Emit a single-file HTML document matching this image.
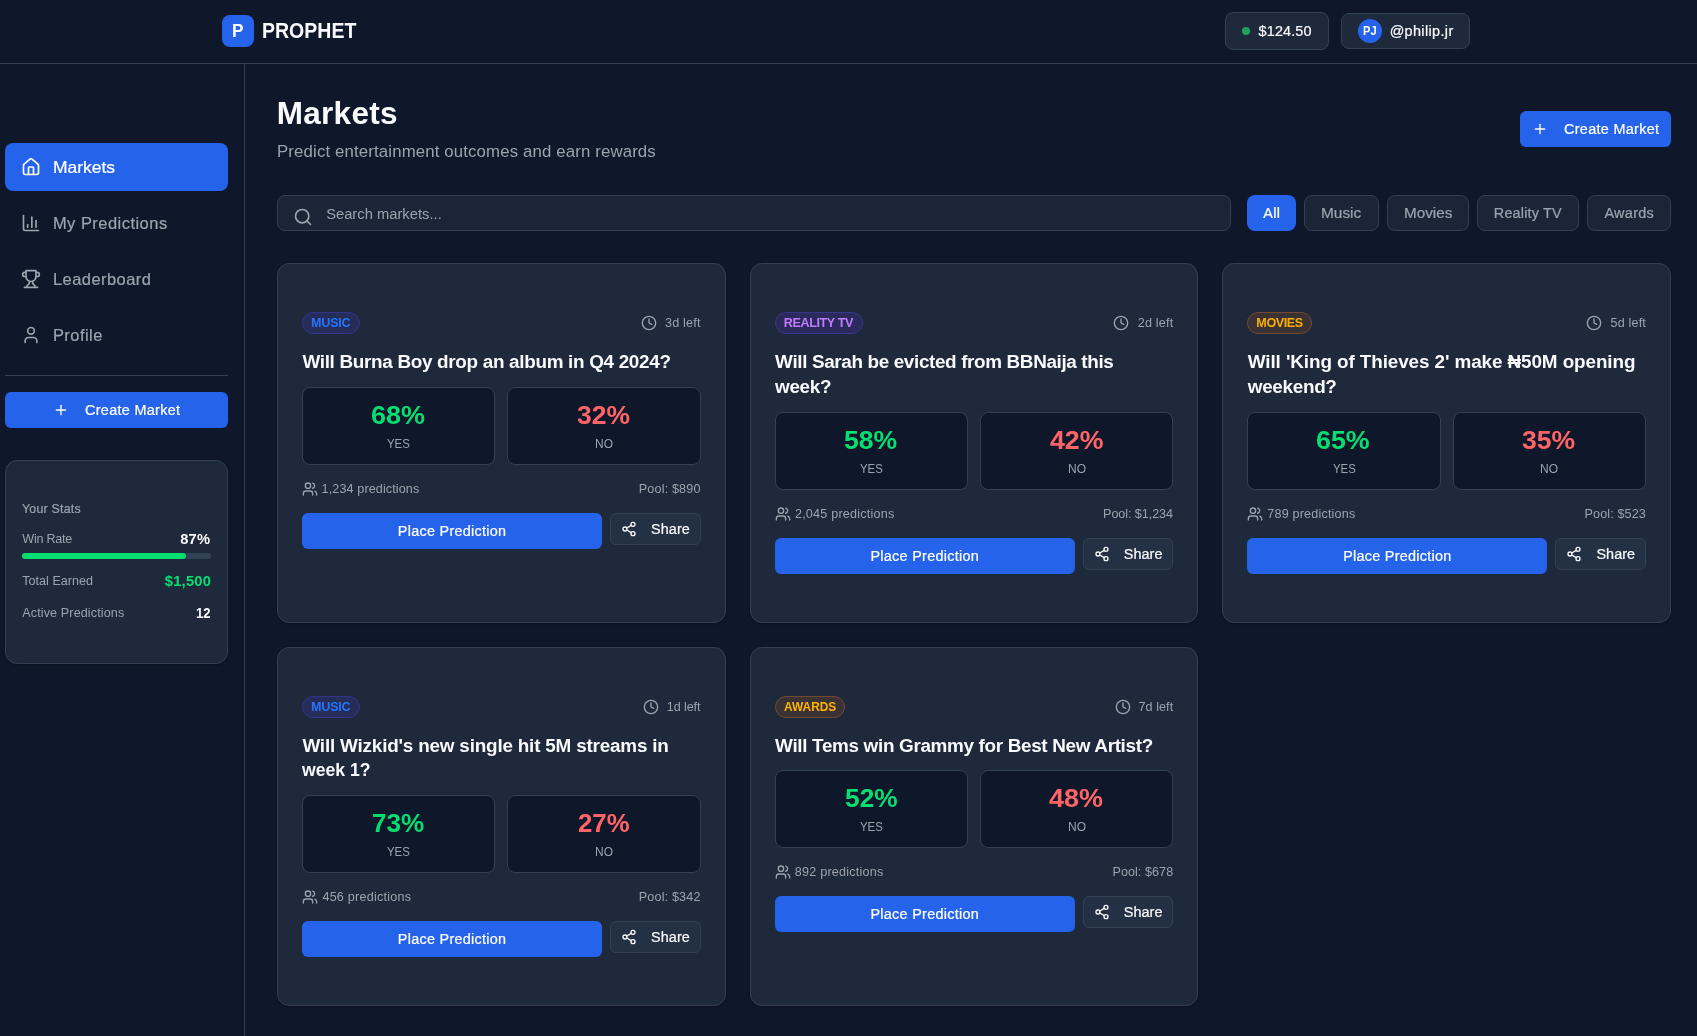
<!DOCTYPE html>
<html lang="en"><head><meta charset="utf-8"><meta name="viewport" content="width=1697"><title>Prophet - Markets</title><style>
html,body{margin:0;padding:0;background:#0f172a;}
body{width:1697px;height:1036px;position:relative;overflow:hidden;font-family:"Liberation Sans",sans-serif;}
#r{position:absolute;left:0;top:0;width:1697px;height:1036px;will-change:transform;}
.b{position:absolute;box-sizing:border-box;}
.t{position:absolute;white-space:nowrap;display:block;transform-origin:0 0;}
.i{position:absolute;fill:none;stroke:currentColor;stroke-width:2;stroke-linecap:round;stroke-linejoin:round;}
</style></head>
<body>
<div id="r">
<header>
<div class="b" style="left:0px;top:63px;width:1697px;height:1px;background:#334155;"></div>
<div class="b" style="left:222px;top:15px;width:32px;height:32px;background:#2563eb;border-radius:8px;"></div>
<span class="t" style="left:232.197px;top:20px;font-size:18.9px;line-height:21px;color:#ffffff;transform:scaleX(0.9159);font-weight:700;">P</span>
<span class="t" style="left:262.012px;top:18px;font-size:21.8px;line-height:25px;color:#f8fafc;transform:scaleX(0.8956);font-weight:700;">PROPHET</span>
<div class="b" style="left:1225px;top:12px;width:104px;height:38px;background:#1e293b;border:1px solid #334155;border-radius:8px;"></div>
<div class="b" style="left:1242px;top:27px;width:8px;height:8px;background:#1da35c;border-radius:4px;"></div>
<span class="t" style="left:1258.57px;top:23px;font-size:14.42px;line-height:16px;color:#f8fafc;letter-spacing:0.15px;-webkit-text-stroke:0.22px #f8fafc;">$124.50</span>
<div class="b" style="left:1341px;top:13px;width:129px;height:36px;background:#1e293b;border:1px solid #334155;border-radius:8px;"></div>
<div class="b" style="left:1358px;top:19px;width:24px;height:24px;background:#2563eb;border-radius:12px;"></div>
<span class="t" style="left:1363.232px;top:24px;font-size:12.6px;line-height:14px;color:#ffffff;transform:scaleX(0.8798);font-weight:700;">PJ</span>
<span class="t" style="left:1389.639px;top:23px;font-size:14.42px;line-height:16px;color:#f8fafc;letter-spacing:0.366px;-webkit-text-stroke:0.22px #f8fafc;">@philip.jr</span>
</header>
<aside>
<div class="b" style="left:244px;top:64px;width:1px;height:972px;background:#334155;"></div>
<div class="b" style="left:5px;top:143px;width:223px;height:48px;background:#2563eb;border-radius:8px;"></div>
<svg class="i" style="left:21px;top:157px;color:#ffffff" width="20" height="20" viewBox="0 0 24 24"><path d="M15 21v-8a1 1 0 0 0-1-1h-4a1 1 0 0 0-1 1v8"/><path d="M3 10a2 2 0 0 1 .709-1.528l7-5.999a2 2 0 0 1 2.582 0l7 5.999A2 2 0 0 1 21 10v9a2 2 0 0 1-2 2H5a2 2 0 0 1-2-2z"/></svg>
<span class="t" style="left:52.856px;top:158px;font-size:16.48px;line-height:18px;color:#ffffff;transform:scaleX(1.0600);-webkit-text-stroke:0.22px #ffffff;">Markets</span>
<svg class="i" style="left:21px;top:213px;color:#9ca3af" width="20" height="20" viewBox="0 0 24 24"><path d="M3 3v16a2 2 0 0 0 2 2h16"/><path d="M18 17V9"/><path d="M13 17V5"/><path d="M8 17v-3"/></svg>
<span class="t" style="left:52.937px;top:214px;font-size:16.48px;line-height:18px;color:#9ca3af;letter-spacing:0.477px;-webkit-text-stroke:0.22px #9ca3af;">My Predictions</span>
<svg class="i" style="left:21px;top:269px;color:#9ca3af" width="20" height="20" viewBox="0 0 24 24"><path d="M6 9H4.5a2.5 2.5 0 0 1 0-5H6"/><path d="M18 9h1.5a2.5 2.5 0 0 0 0-5H18"/><path d="M4 22h16"/><path d="M10 14.66V17c0 .55-.47.98-.97 1.21C7.85 18.75 7 20.24 7 22"/><path d="M14 14.66V17c0 .55.47.98.97 1.21C16.15 18.75 17 20.24 17 22"/><path d="M18 2H6v7a6 6 0 0 0 12 0V2Z"/></svg>
<span class="t" style="left:52.937px;top:270px;font-size:16.48px;line-height:18px;color:#9ca3af;letter-spacing:0.455px;-webkit-text-stroke:0.22px #9ca3af;">Leaderboard</span>
<svg class="i" style="left:21px;top:325px;color:#9ca3af" width="20" height="20" viewBox="0 0 24 24"><path d="M19 21v-2a4 4 0 0 0-4-4H9a4 4 0 0 0-4 4v2"/><circle cx="12" cy="7" r="4"/></svg>
<span class="t" style="left:52.937px;top:326px;font-size:16.48px;line-height:18px;color:#9ca3af;letter-spacing:0.463px;-webkit-text-stroke:0.22px #9ca3af;">Profile</span>
<div class="b" style="left:5px;top:375px;width:223px;height:1px;background:#334155;"></div>
<div class="b" style="left:5px;top:392px;width:223px;height:36px;background:#2563eb;border-radius:6px;"></div>
<svg class="i" style="left:53px;top:402px;color:#ffffff" width="16" height="16" viewBox="0 0 24 24"><path d="M5 12h14"/><path d="M12 5v14"/></svg>
<span class="t" style="left:85.04px;top:402px;font-size:14.42px;line-height:16px;color:#ffffff;letter-spacing:0.308px;-webkit-text-stroke:0.22px #ffffff;">Create Market</span>
<div class="b" style="left:5px;top:460px;width:223px;height:204px;background:#1e293b;border:1px solid #334155;border-radius:12px;box-shadow:0 1px 2px rgba(0,0,0,.25);"></div>
<span class="t" style="left:22.027px;top:502px;font-size:12.36px;line-height:14px;color:#9ca3af;letter-spacing:0.23px;-webkit-text-stroke:0.2px #9ca3af;">Your Stats</span>
<span class="t" style="left:22.249px;top:532px;font-size:12.6px;line-height:14px;color:#9ca3af;letter-spacing:-0.237px;">Win Rate</span>
<span class="t" style="left:180.148px;top:531px;font-size:14.7px;line-height:16px;color:#f8fafc;letter-spacing:0.235px;font-weight:700;">87%</span>
<div class="b" style="left:22px;top:553px;width:189px;height:6px;background:#334155;border-radius:3px;"></div>
<div class="b" style="left:22px;top:553px;width:164.4px;height:6px;background:#05df72;border-radius:3px;"></div>
<span class="t" style="left:22.291px;top:574px;font-size:12.6px;line-height:14px;color:#9ca3af;">Total Earned</span>
<span class="t" style="left:164.821px;top:573px;font-size:14.7px;line-height:16px;color:#05df72;letter-spacing:0.231px;font-weight:700;">$1,500</span>
<span class="t" style="left:22.28px;top:606px;font-size:12.6px;line-height:14px;color:#9ca3af;letter-spacing:0.11px;">Active Predictions</span>
<span class="t" style="left:196.178px;top:605px;font-size:14.7px;line-height:16px;color:#f8fafc;transform:scaleX(0.8878);font-weight:700;">12</span>
</aside>
<main>
<span class="t" style="left:276.87px;top:95px;font-size:31.5px;line-height:36px;color:#f8fafc;letter-spacing:0.247px;font-weight:700;">Markets</span>
<span class="t" style="left:277.028px;top:142px;font-size:16.8px;line-height:19px;color:#9ca3af;letter-spacing:0.142px;">Predict entertainment outcomes and earn rewards</span>
<div class="b" style="left:1520px;top:111px;width:151px;height:36px;background:#2563eb;border-radius:6px;"></div>
<svg class="i" style="left:1532px;top:121px;color:#ffffff" width="16" height="16" viewBox="0 0 24 24"><path d="M5 12h14"/><path d="M12 5v14"/></svg>
<span class="t" style="left:1564.04px;top:121px;font-size:14.42px;line-height:16px;color:#ffffff;letter-spacing:0.308px;-webkit-text-stroke:0.22px #ffffff;">Create Market</span>
<div class="b" style="left:277px;top:195px;width:954px;height:36px;background:#1c2438;border:1px solid #334155;border-radius:8px;"></div>
<svg class="i" style="left:293px;top:207px;color:#9ca3af" width="20" height="20" viewBox="0 0 24 24"><circle cx="11" cy="11" r="8"/><path d="m21 21-4.3-4.3"/></svg>
<span class="t" style="left:326.125px;top:206px;font-size:14.7px;line-height:16px;color:#9ca3af;letter-spacing:0.032px;">Search markets...</span>
<div class="b" style="left:1247px;top:195px;width:49px;height:36px;background:#2563eb;border-radius:8px;"></div>
<span class="t" style="left:1263.33px;top:205px;font-size:14.42px;line-height:16px;color:#ffffff;letter-spacing:0.301px;-webkit-text-stroke:0.22px #ffffff;">All</span>
<div class="b" style="left:1304px;top:195px;width:75px;height:36px;background:#1c2438;border:1px solid #334155;border-radius:8px;"></div>
<span class="t" style="left:1321.189px;top:205px;font-size:14.42px;line-height:16px;color:#9ca3af;transform:scaleX(1.0700);-webkit-text-stroke:0.22px #9ca3af;">Music</span>
<div class="b" style="left:1387px;top:195px;width:82px;height:36px;background:#1c2438;border:1px solid #334155;border-radius:8px;"></div>
<span class="t" style="left:1403.723px;top:205px;font-size:14.42px;line-height:16px;color:#9ca3af;transform:scaleX(1.0594);-webkit-text-stroke:0.22px #9ca3af;">Movies</span>
<div class="b" style="left:1477px;top:195px;width:102px;height:36px;background:#1c2438;border:1px solid #334155;border-radius:8px;"></div>
<span class="t" style="left:1493.871px;top:205px;font-size:14.42px;line-height:16px;color:#9ca3af;letter-spacing:0.163px;-webkit-text-stroke:0.22px #9ca3af;">Reality TV</span>
<div class="b" style="left:1587px;top:195px;width:84px;height:36px;background:#1c2438;border:1px solid #334155;border-radius:8px;"></div>
<span class="t" style="left:1604.39px;top:205px;font-size:14.42px;line-height:16px;color:#9ca3af;letter-spacing:0.33px;-webkit-text-stroke:0.22px #9ca3af;">Awards</span>
<article>
<div class="b" style="left:277px;top:263px;width:448.667px;height:359.5px;background:#1e293b;border:1px solid #334155;border-radius:12px;box-shadow:0 1px 2px rgba(0,0,0,.25);"></div>
<div class="b" style="left:302px;top:312px;width:57.867px;height:22px;background:#262d58;border:1px solid #30358a;border-radius:11px;"></div>
<span class="t" style="left:311.036px;top:316px;font-size:12.6px;line-height:14px;color:#2474ff;letter-spacing:-0.24px;font-weight:700;">MUSIC</span>
<span class="t" style="left:664.925px;top:316px;font-size:12.6px;line-height:14px;color:#9ca3af;letter-spacing:0.214px;">3d left</span>
<svg class="i" style="left:640.673px;top:315px;color:#9ca3af" width="16" height="16" viewBox="0 0 24 24"><circle cx="12" cy="12" r="10"/><polyline points="12 6 12 12 16 14"/></svg>
<span class="t" style="left:302.421px;top:351px;font-size:18.9px;line-height:21px;color:#f8fafc;letter-spacing:-0.315px;font-weight:700;">Will Burna Boy drop an album in Q4 2024?</span>
<div class="b" style="left:302px;top:386.75px;width:193.333px;height:78px;background:#0f172a;border:1px solid #334155;border-radius:8px;"></div>
<span class="t" style="left:370.989px;top:401px;font-size:25.2px;line-height:28px;color:#05df72;transform:scaleX(1.0712);font-weight:700;">68%</span>
<span class="t" style="left:387.192px;top:437px;font-size:12.6px;line-height:14px;color:#9ca3af;transform:scaleX(0.9067);">YES</span>
<div class="b" style="left:507.333px;top:386.75px;width:193.333px;height:78px;background:#0f172a;border:1px solid #334155;border-radius:8px;"></div>
<span class="t" style="left:577.061px;top:401px;font-size:25.2px;line-height:28px;color:#ff6467;transform:scaleX(1.0503);font-weight:700;">32%</span>
<span class="t" style="left:594.961px;top:437px;font-size:12.6px;line-height:14px;color:#9ca3af;transform:scaleX(0.9532);">NO</span>
<svg class="i" style="left:302px;top:480.75px;color:#9ca3af" width="16" height="16" viewBox="0 0 24 24"><path d="M16 21v-2a4 4 0 0 0-4-4H6a4 4 0 0 0-4 4v2"/><circle cx="9" cy="7" r="4"/><path d="M22 21v-2a4 4 0 0 0-3-3.87"/><path d="M16 3.13a4 4 0 0 1 0 7.75"/></svg>
<span class="t" style="left:321.603px;top:482px;font-size:12.6px;line-height:14px;color:#9ca3af;letter-spacing:0.11px;">1,234 predictions</span>
<span class="t" style="left:638.824px;top:482px;font-size:12.6px;line-height:14px;color:#9ca3af;letter-spacing:0.156px;">Pool: $890</span>
<div class="b" style="left:302px;top:512.75px;width:300px;height:36px;background:#2563eb;border-radius:6px;"></div>
<span class="t" style="left:397.804px;top:523px;font-size:14.42px;line-height:16px;color:#ffffff;letter-spacing:0.277px;-webkit-text-stroke:0.22px #ffffff;">Place Prediction</span>
<div class="b" style="left:610px;top:512.75px;width:90.667px;height:32px;background:#243044;border:1px solid #334155;border-radius:6px;"></div>
<svg class="i" style="left:621px;top:520.75px;color:#f8fafc" width="16" height="16" viewBox="0 0 24 24"><circle cx="18" cy="5" r="3"/><circle cx="6" cy="12" r="3"/><circle cx="18" cy="19" r="3"/><line x1="8.59" x2="15.42" y1="13.51" y2="17.49"/><line x1="15.41" x2="8.59" y1="6.51" y2="10.49"/></svg>
<span class="t" style="left:651.07px;top:521px;font-size:14.42px;line-height:16px;color:#f8fafc;letter-spacing:0.07px;-webkit-text-stroke:0.22px #f8fafc;">Share</span>
</article>
<article>
<div class="b" style="left:749.667px;top:263px;width:448.667px;height:359.5px;background:#1e293b;border:1px solid #334155;border-radius:12px;box-shadow:0 1px 2px rgba(0,0,0,.25);"></div>
<div class="b" style="left:774.667px;top:312px;width:88.242px;height:22px;background:#2a2b5c;border:1px solid #37358c;border-radius:11px;"></div>
<span class="t" style="left:783.703px;top:316px;font-size:12.6px;line-height:14px;color:#c27aff;letter-spacing:-0.384px;font-weight:700;">REALITY TV</span>
<span class="t" style="left:1137.702px;top:316px;font-size:12.6px;line-height:14px;color:#9ca3af;letter-spacing:0.196px;">2d left</span>
<svg class="i" style="left:1113.433px;top:315px;color:#9ca3af" width="16" height="16" viewBox="0 0 24 24"><circle cx="12" cy="12" r="10"/><polyline points="12 6 12 12 16 14"/></svg>
<span class="t" style="left:775.088px;top:351px;font-size:18.9px;line-height:21px;color:#f8fafc;letter-spacing:-0.362px;font-weight:700;">Will Sarah be evicted from BBNaija this</span>
<span class="t" style="left:775.109px;top:376px;font-size:18.9px;line-height:21px;color:#f8fafc;letter-spacing:-0.343px;font-weight:700;">week?</span>
<div class="b" style="left:774.667px;top:411.5px;width:193.333px;height:78px;background:#0f172a;border:1px solid #334155;border-radius:8px;"></div>
<span class="t" style="left:844.36px;top:426px;font-size:25.2px;line-height:28px;color:#05df72;transform:scaleX(1.0546);font-weight:700;">58%</span>
<span class="t" style="left:859.859px;top:462px;font-size:12.6px;line-height:14px;color:#9ca3af;transform:scaleX(0.9067);">YES</span>
<div class="b" style="left:980px;top:411.5px;width:193.333px;height:78px;background:#0f172a;border:1px solid #334155;border-radius:8px;"></div>
<span class="t" style="left:1049.584px;top:426px;font-size:25.2px;line-height:28px;color:#ff6467;transform:scaleX(1.0606);font-weight:700;">42%</span>
<span class="t" style="left:1067.628px;top:462px;font-size:12.6px;line-height:14px;color:#9ca3af;transform:scaleX(0.9532);">NO</span>
<svg class="i" style="left:774.667px;top:505.5px;color:#9ca3af" width="16" height="16" viewBox="0 0 24 24"><path d="M16 21v-2a4 4 0 0 0-4-4H6a4 4 0 0 0-4 4v2"/><circle cx="9" cy="7" r="4"/><path d="M22 21v-2a4 4 0 0 0-3-3.87"/><path d="M16 3.13a4 4 0 0 1 0 7.75"/></svg>
<span class="t" style="left:794.935px;top:507px;font-size:12.6px;line-height:14px;color:#9ca3af;letter-spacing:0.21px;">2,045 predictions</span>
<span class="t" style="left:1103.106px;top:507px;font-size:12.6px;line-height:14px;color:#9ca3af;letter-spacing:-0.074px;">Pool: $1,234</span>
<div class="b" style="left:774.667px;top:537.5px;width:300px;height:36px;background:#2563eb;border-radius:6px;"></div>
<span class="t" style="left:870.471px;top:548px;font-size:14.42px;line-height:16px;color:#ffffff;letter-spacing:0.277px;-webkit-text-stroke:0.22px #ffffff;">Place Prediction</span>
<div class="b" style="left:1082.667px;top:537.5px;width:90.667px;height:32px;background:#243044;border:1px solid #334155;border-radius:6px;"></div>
<svg class="i" style="left:1093.667px;top:545.5px;color:#f8fafc" width="16" height="16" viewBox="0 0 24 24"><circle cx="18" cy="5" r="3"/><circle cx="6" cy="12" r="3"/><circle cx="18" cy="19" r="3"/><line x1="8.59" x2="15.42" y1="13.51" y2="17.49"/><line x1="15.41" x2="8.59" y1="6.51" y2="10.49"/></svg>
<span class="t" style="left:1123.736px;top:546px;font-size:14.42px;line-height:16px;color:#f8fafc;letter-spacing:0.07px;-webkit-text-stroke:0.22px #f8fafc;">Share</span>
</article>
<article>
<div class="b" style="left:1222.333px;top:263px;width:448.667px;height:359.5px;background:#1e293b;border:1px solid #334155;border-radius:12px;box-shadow:0 1px 2px rgba(0,0,0,.25);"></div>
<div class="b" style="left:1247.333px;top:312px;width:64.957px;height:22px;background:#3a3234;border:1px solid #75492c;border-radius:11px;"></div>
<span class="t" style="left:1256.369px;top:316px;font-size:12.6px;line-height:14px;color:#fbae00;letter-spacing:-0.426px;font-weight:700;">MOVIES</span>
<span class="t" style="left:1610.544px;top:316px;font-size:12.6px;line-height:14px;color:#9ca3af;letter-spacing:0.167px;">5d left</span>
<svg class="i" style="left:1586.123px;top:315px;color:#9ca3af" width="16" height="16" viewBox="0 0 24 24"><circle cx="12" cy="12" r="10"/><polyline points="12 6 12 12 16 14"/></svg>
<span class="t" style="left:1247.754px;top:351px;font-size:18.9px;line-height:21px;color:#f8fafc;letter-spacing:-0.103px;font-weight:700;">Will &#x27;King of Thieves 2&#x27; make ₦50M opening</span>
<span class="t" style="left:1247.775px;top:376px;font-size:18.9px;line-height:21px;color:#f8fafc;letter-spacing:-0.316px;font-weight:700;">weekend?</span>
<div class="b" style="left:1247.333px;top:411.5px;width:193.333px;height:78px;background:#0f172a;border:1px solid #334155;border-radius:8px;"></div>
<span class="t" style="left:1316.468px;top:426px;font-size:25.2px;line-height:28px;color:#05df72;transform:scaleX(1.0654);font-weight:700;">65%</span>
<span class="t" style="left:1332.525px;top:462px;font-size:12.6px;line-height:14px;color:#9ca3af;transform:scaleX(0.9067);">YES</span>
<div class="b" style="left:1452.667px;top:411.5px;width:193.333px;height:78px;background:#0f172a;border:1px solid #334155;border-radius:8px;"></div>
<span class="t" style="left:1522.28px;top:426px;font-size:25.2px;line-height:28px;color:#ff6467;transform:scaleX(1.0549);font-weight:700;">35%</span>
<span class="t" style="left:1540.294px;top:462px;font-size:12.6px;line-height:14px;color:#9ca3af;transform:scaleX(0.9532);">NO</span>
<svg class="i" style="left:1247.333px;top:505.5px;color:#9ca3af" width="16" height="16" viewBox="0 0 24 24"><path d="M16 21v-2a4 4 0 0 0-4-4H6a4 4 0 0 0-4 4v2"/><circle cx="9" cy="7" r="4"/><path d="M22 21v-2a4 4 0 0 0-3-3.87"/><path d="M16 3.13a4 4 0 0 1 0 7.75"/></svg>
<span class="t" style="left:1267.262px;top:507px;font-size:12.6px;line-height:14px;color:#9ca3af;letter-spacing:0.186px;">789 predictions</span>
<span class="t" style="left:1584.568px;top:507px;font-size:12.6px;line-height:14px;color:#9ca3af;letter-spacing:0.117px;">Pool: $523</span>
<div class="b" style="left:1247.333px;top:537.5px;width:300px;height:36px;background:#2563eb;border-radius:6px;"></div>
<span class="t" style="left:1343.138px;top:548px;font-size:14.42px;line-height:16px;color:#ffffff;letter-spacing:0.277px;-webkit-text-stroke:0.22px #ffffff;">Place Prediction</span>
<div class="b" style="left:1555.333px;top:537.5px;width:90.667px;height:32px;background:#243044;border:1px solid #334155;border-radius:6px;"></div>
<svg class="i" style="left:1566.333px;top:545.5px;color:#f8fafc" width="16" height="16" viewBox="0 0 24 24"><circle cx="18" cy="5" r="3"/><circle cx="6" cy="12" r="3"/><circle cx="18" cy="19" r="3"/><line x1="8.59" x2="15.42" y1="13.51" y2="17.49"/><line x1="15.41" x2="8.59" y1="6.51" y2="10.49"/></svg>
<span class="t" style="left:1596.403px;top:546px;font-size:14.42px;line-height:16px;color:#f8fafc;letter-spacing:0.07px;-webkit-text-stroke:0.22px #f8fafc;">Share</span>
</article>
<article>
<div class="b" style="left:277px;top:646.5px;width:448.667px;height:359.5px;background:#1e293b;border:1px solid #334155;border-radius:12px;box-shadow:0 1px 2px rgba(0,0,0,.25);"></div>
<div class="b" style="left:302px;top:695.5px;width:57.867px;height:22px;background:#262d58;border:1px solid #30358a;border-radius:11px;"></div>
<span class="t" style="left:311.036px;top:700px;font-size:12.6px;line-height:14px;color:#2474ff;letter-spacing:-0.24px;font-weight:700;">MUSIC</span>
<span class="t" style="left:666.807px;top:700px;font-size:12.6px;line-height:14px;color:#9ca3af;letter-spacing:-0.099px;">1d left</span>
<svg class="i" style="left:643.204px;top:698.5px;color:#9ca3af" width="16" height="16" viewBox="0 0 24 24"><circle cx="12" cy="12" r="10"/><polyline points="12 6 12 12 16 14"/></svg>
<span class="t" style="left:302.421px;top:735px;font-size:18.9px;line-height:21px;color:#f8fafc;letter-spacing:-0.2px;font-weight:700;">Will Wizkid&#x27;s new single hit 5M streams in</span>
<span class="t" style="left:302.438px;top:759px;font-size:18.9px;line-height:21px;color:#f8fafc;transform:scaleX(0.9326);font-weight:700;">week 1?</span>
<div class="b" style="left:302px;top:795px;width:193.333px;height:78px;background:#0f172a;border:1px solid #334155;border-radius:8px;"></div>
<span class="t" style="left:371.712px;top:809px;font-size:25.2px;line-height:28px;color:#05df72;transform:scaleX(1.0350);font-weight:700;">73%</span>
<span class="t" style="left:387.192px;top:845px;font-size:12.6px;line-height:14px;color:#9ca3af;transform:scaleX(0.9067);">YES</span>
<div class="b" style="left:507.333px;top:795px;width:193.333px;height:78px;background:#0f172a;border:1px solid #334155;border-radius:8px;"></div>
<span class="t" style="left:577.671px;top:809px;font-size:25.2px;line-height:28px;color:#ff6467;transform:scaleX(1.0226);font-weight:700;">27%</span>
<span class="t" style="left:594.961px;top:845px;font-size:12.6px;line-height:14px;color:#9ca3af;transform:scaleX(0.9532);">NO</span>
<svg class="i" style="left:302px;top:889px;color:#9ca3af" width="16" height="16" viewBox="0 0 24 24"><path d="M16 21v-2a4 4 0 0 0-4-4H6a4 4 0 0 0-4 4v2"/><circle cx="9" cy="7" r="4"/><path d="M22 21v-2a4 4 0 0 0-3-3.87"/><path d="M16 3.13a4 4 0 0 1 0 7.75"/></svg>
<span class="t" style="left:322.414px;top:890px;font-size:12.6px;line-height:14px;color:#9ca3af;letter-spacing:0.223px;">456 predictions</span>
<span class="t" style="left:638.778px;top:890px;font-size:12.6px;line-height:14px;color:#9ca3af;letter-spacing:0.161px;">Pool: $342</span>
<div class="b" style="left:302px;top:921px;width:300px;height:36px;background:#2563eb;border-radius:6px;"></div>
<span class="t" style="left:397.804px;top:931px;font-size:14.42px;line-height:16px;color:#ffffff;letter-spacing:0.277px;-webkit-text-stroke:0.22px #ffffff;">Place Prediction</span>
<div class="b" style="left:610px;top:921px;width:90.667px;height:32px;background:#243044;border:1px solid #334155;border-radius:6px;"></div>
<svg class="i" style="left:621px;top:929px;color:#f8fafc" width="16" height="16" viewBox="0 0 24 24"><circle cx="18" cy="5" r="3"/><circle cx="6" cy="12" r="3"/><circle cx="18" cy="19" r="3"/><line x1="8.59" x2="15.42" y1="13.51" y2="17.49"/><line x1="15.41" x2="8.59" y1="6.51" y2="10.49"/></svg>
<span class="t" style="left:651.07px;top:929px;font-size:14.42px;line-height:16px;color:#f8fafc;letter-spacing:0.07px;-webkit-text-stroke:0.22px #f8fafc;">Share</span>
</article>
<article>
<div class="b" style="left:749.667px;top:646.5px;width:448.667px;height:359.5px;background:#1e293b;border:1px solid #334155;border-radius:12px;box-shadow:0 1px 2px rgba(0,0,0,.25);"></div>
<div class="b" style="left:774.667px;top:695.5px;width:70.395px;height:22px;background:#3a3234;border:1px solid #75492c;border-radius:11px;"></div>
<span class="t" style="left:783.663px;top:700px;font-size:12.6px;line-height:14px;color:#ffb400;transform:scaleX(0.9463);font-weight:700;">AWARDS</span>
<span class="t" style="left:1138.498px;top:700px;font-size:12.6px;line-height:14px;color:#9ca3af;letter-spacing:0.063px;">7d left</span>
<svg class="i" style="left:1114.57px;top:698.5px;color:#9ca3af" width="16" height="16" viewBox="0 0 24 24"><circle cx="12" cy="12" r="10"/><polyline points="12 6 12 12 16 14"/></svg>
<span class="t" style="left:775.088px;top:735px;font-size:18.9px;line-height:21px;color:#f8fafc;letter-spacing:-0.331px;font-weight:700;">Will Tems win Grammy for Best New Artist?</span>
<div class="b" style="left:774.667px;top:770.25px;width:193.333px;height:78px;background:#0f172a;border:1px solid #334155;border-radius:8px;"></div>
<span class="t" style="left:844.62px;top:784px;font-size:25.2px;line-height:28px;color:#05df72;transform:scaleX(1.0443);font-weight:700;">52%</span>
<span class="t" style="left:859.859px;top:820px;font-size:12.6px;line-height:14px;color:#9ca3af;transform:scaleX(0.9067);">YES</span>
<div class="b" style="left:980px;top:770.25px;width:193.333px;height:78px;background:#0f172a;border:1px solid #334155;border-radius:8px;"></div>
<span class="t" style="left:1049.329px;top:784px;font-size:25.2px;line-height:28px;color:#ff6467;transform:scaleX(1.0708);font-weight:700;">48%</span>
<span class="t" style="left:1067.628px;top:820px;font-size:12.6px;line-height:14px;color:#9ca3af;transform:scaleX(0.9532);">NO</span>
<svg class="i" style="left:774.667px;top:864.25px;color:#9ca3af" width="16" height="16" viewBox="0 0 24 24"><path d="M16 21v-2a4 4 0 0 0-4-4H6a4 4 0 0 0-4 4v2"/><circle cx="9" cy="7" r="4"/><path d="M22 21v-2a4 4 0 0 0-3-3.87"/><path d="M16 3.13a4 4 0 0 1 0 7.75"/></svg>
<span class="t" style="left:794.834px;top:865px;font-size:12.6px;line-height:14px;color:#9ca3af;letter-spacing:0.218px;">892 predictions</span>
<span class="t" style="left:1112.44px;top:865px;font-size:12.6px;line-height:14px;color:#9ca3af;letter-spacing:0.056px;">Pool: $678</span>
<div class="b" style="left:774.667px;top:896.25px;width:300px;height:36px;background:#2563eb;border-radius:6px;"></div>
<span class="t" style="left:870.471px;top:906px;font-size:14.42px;line-height:16px;color:#ffffff;letter-spacing:0.277px;-webkit-text-stroke:0.22px #ffffff;">Place Prediction</span>
<div class="b" style="left:1082.667px;top:896.25px;width:90.667px;height:32px;background:#243044;border:1px solid #334155;border-radius:6px;"></div>
<svg class="i" style="left:1093.667px;top:904.25px;color:#f8fafc" width="16" height="16" viewBox="0 0 24 24"><circle cx="18" cy="5" r="3"/><circle cx="6" cy="12" r="3"/><circle cx="18" cy="19" r="3"/><line x1="8.59" x2="15.42" y1="13.51" y2="17.49"/><line x1="15.41" x2="8.59" y1="6.51" y2="10.49"/></svg>
<span class="t" style="left:1123.736px;top:904px;font-size:14.42px;line-height:16px;color:#f8fafc;letter-spacing:0.07px;-webkit-text-stroke:0.22px #f8fafc;">Share</span>
</article>
</main>
</div>
</body></html>
